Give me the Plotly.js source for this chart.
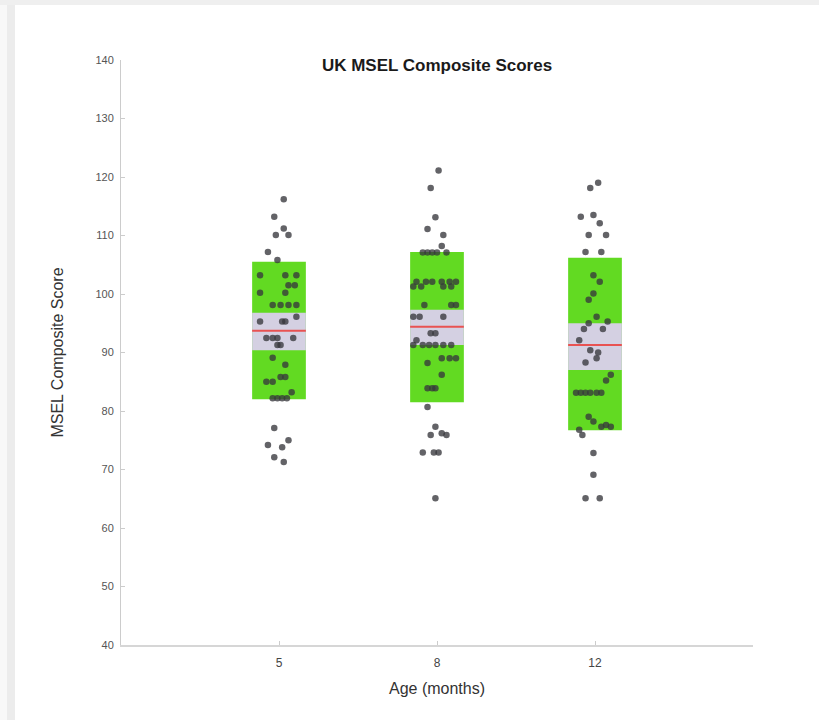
<!DOCTYPE html>
<html>
<head>
<meta charset="utf-8">
<script src="https://cdn.plot.ly/plotly-3.0.1.min.js"></script>
<style>
  html, body { margin: 0; padding: 0; background: #ffffff; }
  #wrap { position: relative; width: 819px; height: 720px; overflow: hidden; }
  #chart { position: absolute; left: 0; top: 0; width: 819px; height: 720px; }
  #topband { position: absolute; left: 0; top: 0; width: 819px; height: 5px; background: #efefef; }
  #leftband1 { position: absolute; left: 0; top: 5px; width: 7px; height: 715px; background: #f8f8f8; }
  #leftband2 { position: absolute; left: 7px; top: 5px; width: 8px; height: 715px; background: #ececec; }
</style>
</head>
<body>
<div id="wrap">
  <div id="chart"></div>
  <div id="topband"></div>
  <div id="leftband1"></div>
  <div id="leftband2"></div>
</div>
<script>
// ---- Data ----
const categories = ['5', '8', '12'];

// Summary statistics per age group
const means  = [93.7, 94.4, 91.3];
const sdLow  = [82.0, 81.5, 76.7];
const sdHigh = [105.5, 107.2, 106.2];
const ciLow  = [90.4, 91.3, 87.0];
const ciHigh = [96.8, 97.3, 95.0];

// Individual scores and their horizontal jitter (category units)
const scores5 = [116.2, 113.2, 111.2, 110.1, 110.1, 107.2, 105.8,
  103.2, 103.2, 103.2, 101.5, 101.5, 100.2, 100.2, 98.1, 98.1, 98.1, 98.1,
  96.1, 95.3, 95.3, 95.3, 92.5, 92.5, 92.5, 92.5, 91.3, 91.3, 89.1, 87.9,
  85.8, 85.8, 85.0, 85.0, 83.2, 82.2, 82.2, 82.2, 82.2,
  77.1, 75.0, 74.2, 73.8, 72.1, 71.3];
const jitter5 = [0.03, -0.03, 0.03, -0.02, 0.06, -0.07, -0.01,
  -0.12, 0.04, 0.11, 0.06, 0.10, -0.12, 0.04, -0.04, 0.01, 0.06, 0.11,
  0.11, -0.12, 0.02, 0.04, -0.08, -0.04, -0.01, 0.09, -0.01, 0.01, -0.04, 0.04,
  0.01, 0.04, -0.08, -0.04, 0.08, -0.04, -0.01, 0.02, 0.05,
  -0.03, 0.06, -0.07, 0.02, -0.03, 0.03];

const scores8 = [121.1, 118.1, 113.1, 111.1, 110.1, 108.2,
  107.1, 107.1, 107.1, 107.1, 107.1,
  102.1, 102.1, 102.1, 102.1, 102.1, 102.1,
  101.3, 101.3, 101.3, 101.3,
  98.1, 98.1, 98.1, 96.1, 96.1, 96.1, 93.3, 93.3, 92.1,
  91.3, 91.3, 91.3, 91.3, 91.3, 91.3,
  89.0, 89.0, 89.0, 88.2, 86.2, 83.9, 83.9, 83.9, 80.7,
  77.3, 75.9, 76.2, 75.9, 72.9, 72.9, 72.9, 65.1];
const jitter8 = [0.01, -0.04, -0.01, -0.06, 0.04, 0.03,
  -0.09, -0.06, -0.03, 0.00, 0.06,
  -0.13, -0.07, -0.03, 0.03, 0.08, 0.12,
  -0.15, -0.10, 0.04, 0.09,
  -0.08, 0.09, 0.12, -0.15, -0.11, 0.04, -0.04, -0.01, -0.13,
  -0.15, -0.09, -0.05, -0.01, 0.04, 0.09,
  0.03, 0.08, 0.12, -0.06, 0.03, -0.06, -0.03, -0.01, -0.06,
  -0.01, -0.04, 0.03, 0.06, -0.09, -0.02, 0.01, -0.01];

const scores12 = [119.0, 118.1, 113.2, 113.5, 112.1, 110.1, 110.1, 107.2, 107.2,
  103.2, 102.1, 100.1, 99.0, 96.1, 95.0, 95.3, 94.0, 94.0, 92.1,
  90.4, 90.0, 89.0, 88.3, 86.2, 85.2,
  83.1, 83.1, 83.1, 83.1, 83.1, 83.1,
  79.0, 78.2, 77.3, 77.6, 77.3, 76.8, 75.9,
  72.8, 69.1, 65.1, 65.1];
const jitter12 = [0.02, -0.03, -0.09, -0.01, 0.03, -0.04, 0.07, -0.06, 0.04,
  -0.01, 0.03, -0.01, -0.04, 0.01, -0.04, 0.08, -0.07, 0.05, -0.10,
  -0.03, 0.02, 0.01, -0.06, 0.10, 0.07,
  -0.12, -0.09, -0.06, -0.03, 0.01, 0.04,
  -0.04, -0.01, 0.04, 0.07, 0.10, -0.10, -0.08,
  -0.01, -0.01, -0.06, 0.03];

const groupScores = [scores5, scores8, scores12];
const groupJitter = [jitter5, jitter8, jitter12];

// ---- Build traces ----
const positions = categories.map((c, i) => i + 1);
const boxWidth = 0.34;

const sdTrace = {
  type: 'bar', x: positions, base: sdLow,
  y: sdHigh.map((h, i) => h - sdLow[i]),
  width: boxWidth, marker: { color: 'rgb(98,218,34)', line: { width: 0 } },
  hoverinfo: 'skip', showlegend: false
};
const ciTrace = {
  type: 'bar', x: positions, base: ciLow,
  y: ciHigh.map((h, i) => h - ciLow[i]),
  width: boxWidth, marker: { color: 'rgb(212,208,226)', line: { width: 0 } },
  hoverinfo: 'skip', showlegend: false
};

const meanX = [], meanY = [];
positions.forEach((p, i) => {
  meanX.push(p - boxWidth / 2, p + boxWidth / 2, null);
  meanY.push(means[i], means[i], null);
});
const meanTrace = {
  type: 'scatter', mode: 'lines', x: meanX, y: meanY,
  line: { color: 'rgb(232,82,82)', width: 2 },
  hoverinfo: 'skip', showlegend: false
};

const pointTraces = groupScores.map((vals, gi) => ({
  type: 'scatter', mode: 'markers',
  x: vals.map((v, k) => positions[gi] + groupJitter[gi][k]),
  y: vals,
  marker: { size: 6.5, color: 'rgba(55,55,60,0.78)', line: { width: 0 } },
  hoverinfo: 'skip', showlegend: false
}));

const fontFam = 'Liberation Sans, Arial, Helvetica, sans-serif';

const layout = {
  width: 819, height: 720,
  margin: { l: 121, r: 66, t: 60, b: 75, autoexpand: false },
  paper_bgcolor: '#ffffff', plot_bgcolor: '#ffffff',
  barmode: 'overlay',
  showlegend: false,
  font: { family: fontFam, color: '#333333' },
  title: {
    text: '<b>UK MSEL Composite Scores</b>',
    font: { family: fontFam, size: 17, color: '#1a1a1a' },
    x: 0.5, xref: 'paper', xanchor: 'center',
    y: 1 - 65 / 720, yref: 'container', yanchor: 'middle'
  },
  xaxis: {
    range: [0, 4],
    tickmode: 'array', tickvals: positions, ticktext: categories,
    showline: true, linecolor: '#d6d6d6', linewidth: 2,
    ticks: 'inside', ticklen: 4, tickcolor: '#cccccc', tickwidth: 1,
    showgrid: false, zeroline: false,
    tickfont: { family: fontFam, size: 12, color: '#444444' },
    ticklabelstandoff: 6,
    title: { text: 'Age (months)', font: { family: fontFam, size: 16, color: '#333333' }, standoff: 13 }
  },
  yaxis: {
    range: [40, 140],
    tickmode: 'linear', tick0: 40, dtick: 10,
    showline: true, linecolor: '#cccccc', linewidth: 1,
    ticks: 'inside', ticklen: 4, tickcolor: '#cccccc', tickwidth: 1,
    showgrid: false, zeroline: false,
    tickfont: { family: fontFam, size: 11, color: '#555555' },
    ticklabelstandoff: 4,
    title: { text: 'MSEL Composite Score', font: { family: fontFam, size: 16, color: '#333333' }, standoff: 27 }
  }
};

Plotly.newPlot('chart', [sdTrace, ciTrace, meanTrace].concat(pointTraces), layout,
  { staticPlot: true, displayModeBar: false });
</script>
</body>
</html>
